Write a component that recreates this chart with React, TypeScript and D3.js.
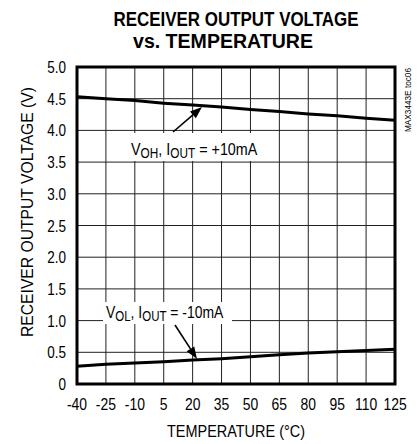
import React from "react";
import * as d3 from "d3";

const temps = [-40, -25, -10, 5, 20, 35, 50, 65, 80, 95, 110, 125];
const voh = [4.53, 4.5, 4.47, 4.43, 4.4, 4.37, 4.33, 4.3, 4.26, 4.23, 4.19, 4.16];
const vol = [0.28, 0.31, 0.33, 0.35, 0.38, 0.4, 0.43, 0.46, 0.49, 0.51, 0.53, 0.55];
const yTicks = [0, 0.5, 1, 1.5, 2, 2.5, 3, 3.5, 4, 4.5, 5];
const yTickLabels = ["0", "0.5", "1.0", "1.5", "2.0", "2.5", "3.0", "3.5", "4.0", "4.5", "5.0"];

const FONT = "'Liberation Sans', Arial, sans-serif";
const SX = 0.82;

function NText({ x, y, anchor = "start", size, weight, children }: any) {
  return (
    <g transform={`translate(${x},${y}) scale(${SX},1)`}>
      <text x={0} y={0} textAnchor={anchor} fontSize={size} fontWeight={weight}>{children}</text>
    </g>
  );
}

export default function App() {
  const W = 420, H = 444;
  const L = 77, R = 395, T = 67, B = 384;
  const x = d3.scaleLinear().domain([-40, 125]).range([L, R]);
  const y = d3.scaleLinear().domain([0, 5]).range([B, T]);
  const line = d3.line<number>().x((_, i) => x(temps[i])).y((d) => y(d));

  const arrow = (x1: number, y1: number, x2: number, y2: number) => {
    const ang = Math.atan2(y2 - y1, x2 - x1);
    const hl = 12, hw = 4.5;
    const bx = x2 - hl * Math.cos(ang), by = y2 - hl * Math.sin(ang);
    const px = -Math.sin(ang) * hw, py = Math.cos(ang) * hw;
    return (
      <g>
        <line x1={x1} y1={y1} x2={bx} y2={by} stroke="#000" strokeWidth={1.6} />
        <polygon points={`${x2},${y2} ${bx + px},${by + py} ${bx - px},${by - py}`} fill="#000" />
      </g>
    );
  };

  return (
    <svg width={W} height={H} style={{ position: "absolute", left: 0, top: 0 }} fontFamily={FONT}>
      <rect width={W} height={H} fill="#fff" />
      <text x={236} y={26} textAnchor="middle" fontWeight="bold" fontSize={19.5} textLength={245} lengthAdjust="spacingAndGlyphs">RECEIVER OUTPUT VOLTAGE</text>
      <text x={223} y={48} textAnchor="middle" fontWeight="bold" fontSize={19.5} textLength={180} lengthAdjust="spacingAndGlyphs">vs. TEMPERATURE</text>

      {temps.map((t) => (
        <line key={"vx" + t} x1={x(t)} x2={x(t)} y1={T} y2={B} stroke="#222" strokeWidth={1} />
      ))}
      {yTicks.map((v) => (
        <line key={"hy" + v} x1={L} x2={R} y1={y(v)} y2={y(v)} stroke="#222" strokeWidth={1} />
      ))}

      <path d={line(voh) || ""} fill="none" stroke="#000" strokeWidth={3} />
      <path d={line(vol) || ""} fill="none" stroke="#000" strokeWidth={3} />

      <rect x={L} y={T} width={R - L} height={B - T} fill="none" stroke="#000" strokeWidth={3} />

      <rect x={127} y={133} width={135} height={28} fill="#fff" />
      <g transform={`translate(131,155) scale(${SX * 1.03},1)`}>
        <text x={0} y={0} fontSize={17}>
          V<tspan fontSize={14} dy={3}>OH</tspan>
          <tspan dy={-3}>, I</tspan>
          <tspan fontSize={14} dy={3}>OUT</tspan>
          <tspan dy={-3}> = +10mA</tspan>
        </text>
      </g>
      {arrow(173, 132, 202, 107)}

      <rect x={103} y={302} width={129} height={22} fill="#fff" />
      <g transform={`translate(106,318) scale(${SX},1)`}>
        <text x={0} y={0} fontSize={17}>
          V<tspan fontSize={14} dy={3}>OL</tspan>
          <tspan dy={-3}>, I</tspan>
          <tspan fontSize={14} dy={3}>OUT</tspan>
          <tspan dy={-3}> = -10mA</tspan>
        </text>
      </g>
      {arrow(175, 325, 197, 359)}

      {yTicks.map((v, i) => (
        <NText key={"yl" + v} x={66} y={y(v) + 6} anchor="end" size={16.5}>{yTickLabels[i]}</NText>
      ))}
      {temps.map((t) => (
        <NText key={"xl" + t} x={x(t)} y={410} anchor="middle" size={17}>{t}</NText>
      ))}
      <text x={236} y={437} textAnchor="middle" fontSize={16.5} textLength={138} lengthAdjust="spacingAndGlyphs">TEMPERATURE (°C)</text>
      <text transform={`translate(33,212) rotate(-90)`} textAnchor="middle" fontSize={17} textLength={250} lengthAdjust="spacingAndGlyphs">RECEIVER OUTPUT VOLTAGE (V)</text>
      <text transform={`translate(411,132) rotate(-90)`} fontSize={9} textLength={64} lengthAdjust="spacingAndGlyphs">MAX3443E toc06</text>
    </svg>
  );
}
